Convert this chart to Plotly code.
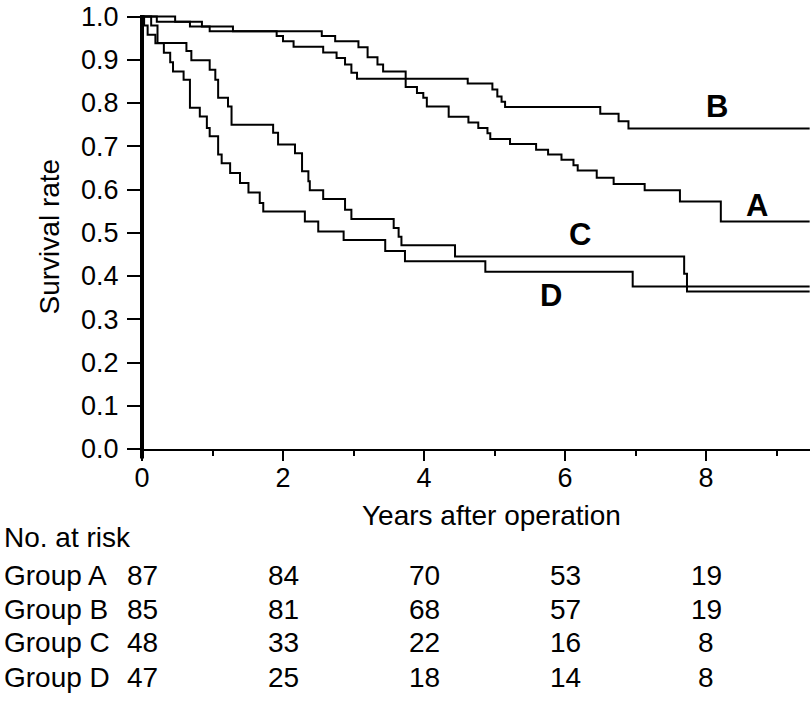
import plotly.graph_objects as go

# ---- data ----
t_A = [0, 0.21, 0.68, 0.96, 2.55, 2.74, 3.07, 3.20, 3.34, 3.42, 3.74, 3.90, 3.99, 4.04, 4.35,
       4.63, 4.77, 4.90, 4.94, 5.22, 5.59, 5.76, 5.95, 6.12, 6.18, 6.45, 6.69, 7.13, 7.63, 8.21]
s_A = [1.0, 0.988, 0.977, 0.966, 0.955, 0.943, 0.929, 0.906, 0.889, 0.873, 0.837, 0.823, 0.812, 0.792, 0.768,
       0.755, 0.742, 0.730, 0.717, 0.705, 0.692, 0.681, 0.669, 0.656, 0.644, 0.627, 0.613, 0.598, 0.572, 0.526]

t_B = [0, 0.47, 0.85, 1.29, 1.91, 2.00, 2.15, 2.57, 2.76, 2.88, 2.97, 3.05, 4.62, 4.97, 5.04, 5.10, 5.15,
       6.50, 6.76, 6.90]
s_B = [1.0, 0.988, 0.977, 0.966, 0.955, 0.943, 0.930, 0.917, 0.904, 0.889, 0.870, 0.856, 0.845, 0.831, 0.815,
       0.803, 0.791, 0.775, 0.758, 0.741]

t_C = [0, 0.13, 0.22, 0.63, 0.70, 0.96, 1.04, 1.08, 1.22, 1.27, 1.86, 1.93, 2.17, 2.27, 2.36, 2.38, 2.57,
       2.88, 2.97, 3.57, 3.64, 3.68, 4.44, 7.69, 7.73]
s_C = [1.0, 0.979, 0.939, 0.920, 0.899, 0.877, 0.854, 0.812, 0.792, 0.750, 0.731, 0.704, 0.684, 0.642, 0.619,
       0.598, 0.578, 0.553, 0.532, 0.511, 0.491, 0.471, 0.445, 0.405, 0.364]

t_D = [0, 0.03, 0.08, 0.19, 0.31, 0.40, 0.44, 0.59, 0.68, 0.82, 0.92, 0.96, 1.08, 1.13, 1.25, 1.39, 1.51,
       1.67, 1.72, 2.31, 2.50, 2.86, 3.45, 3.73, 4.87, 6.96]
s_D = [1.0, 0.979, 0.958, 0.938, 0.916, 0.894, 0.873, 0.854, 0.789, 0.769, 0.742, 0.723, 0.681, 0.661, 0.638,
       0.615, 0.593, 0.569, 0.549, 0.526, 0.503, 0.483, 0.458, 0.434, 0.410, 0.376]

t_end = 9.47

group_names = ["Group A", "Group B", "Group C", "Group D"]
risk_times = [0, 2, 4, 6, 8]
at_risk_A = [87, 84, 70, 53, 19]
at_risk_B = [85, 81, 68, 57, 19]
at_risk_C = [48, 33, 22, 16, 8]
at_risk_D = [47, 25, 18, 14, 8]

curve_labels = ["A", "B", "C", "D"]
label_x = [8.72, 8.16, 6.21, 5.80]
label_y = [0.562, 0.792, 0.495, 0.356]

y_ticks = [0.0, 0.1, 0.2, 0.3, 0.4, 0.5, 0.6, 0.7, 0.8, 0.9, 1.0]
x_ticks = [0, 2, 4, 6, 8]

FONT = "Liberation Sans, Arial, Helvetica, sans-serif"
TXT = 28

fig = go.Figure()
for t, s in [(t_A, s_A), (t_B, s_B), (t_C, s_C), (t_D, s_D)]:
    fig.add_trace(go.Scatter(x=t + [t_end], y=s + [s[-1]], mode="lines",
                             line=dict(color="black", width=2, shape="hv"),
                             showlegend=False, hoverinfo="skip"))

annotations = []
for lab, lx, ly in zip(curve_labels, label_x, label_y):
    annotations.append(dict(x=lx, y=ly, xref="x", yref="y", text="<b>" + lab + "</b>",
                            xanchor="center", yanchor="middle",
                            showarrow=False, font=dict(family=FONT, size=31, color="black")))

# axis titles
annotations.append(dict(x=4.96, y=-0.154, xref="x", yref="paper", text="Years after operation",
                        xanchor="center", yanchor="middle",
                        showarrow=False, font=dict(family=FONT, size=TXT, color="black")))
annotations.append(dict(x=-0.139, y=0.49, xref="paper", yref="paper", text="Survival rate", textangle=-90,
                        xanchor="center", yanchor="middle",
                        showarrow=False, font=dict(family=FONT, size=TXT, color="black")))

# at-risk table
row_y = [-0.2905, -0.369, -0.447, -0.526]
annotations.append(dict(x=-0.209, y=-0.203, xref="paper", yref="paper", text="No. at risk",
                        xanchor="left", yanchor="middle",
                        showarrow=False, font=dict(family=FONT, size=TXT, color="black")))
for name, vals, ry in zip(group_names, [at_risk_A, at_risk_B, at_risk_C, at_risk_D], row_y):
    annotations.append(dict(x=-0.209, y=ry, xref="paper", yref="paper", text=name,
                            xanchor="left", yanchor="middle",
                            showarrow=False, font=dict(family=FONT, size=TXT, color="black")))
    for tx, v in zip(risk_times, vals):
        annotations.append(dict(x=tx, y=ry, xref="x", yref="paper", text=str(v),
                                xanchor="center", yanchor="middle",
                                showarrow=False, font=dict(family=FONT, size=TXT, color="black")))

# thick y axis line extending slightly below 0
shapes = [dict(type="line", xref="paper", yref="paper", x0=0, x1=0, y0=-0.022, y1=1.0,
               line=dict(color="black", width=4))]

fig.update_layout(
    width=812, height=710,
    margin=dict(l=142, r=2, t=15, b=261, autoexpand=False),
    plot_bgcolor="white", paper_bgcolor="white",
    showlegend=False,
    annotations=annotations,
    shapes=shapes,
    xaxis=dict(range=[0, 9.475], tickvals=x_ticks, ticktext=[str(v) for v in x_ticks],
               automargin=False,
               showgrid=False, zeroline=False, showline=True, linecolor="black", linewidth=1.6,
               ticks="outside", ticklen=10, tickwidth=1.6, tickcolor="black",
               ticklabelstandoff=-6,
               tickfont=dict(family=FONT, size=27, color="black"),
               minor=dict(tickvals=[1, 3, 5, 7, 9], ticks="outside", ticklen=5, tickwidth=1.6,
                          tickcolor="black", showgrid=False)),
    yaxis=dict(range=[0, 1.0035], tickvals=y_ticks, ticktext=["%.1f" % v for v in y_ticks],
               automargin=False, ticklabeloverflow="allow",
               showgrid=False, zeroline=False, showline=False,
               ticks="outside", ticklen=14, tickwidth=1.6, tickcolor="black",
               ticklabelstandoff=3,
               tickfont=dict(family=FONT, size=27, color="black")),
)

fig.write_html("out.html", config={"displayModeBar": False},
               post_script="document.body.style.margin='0';document.body.style.padding='0';")
